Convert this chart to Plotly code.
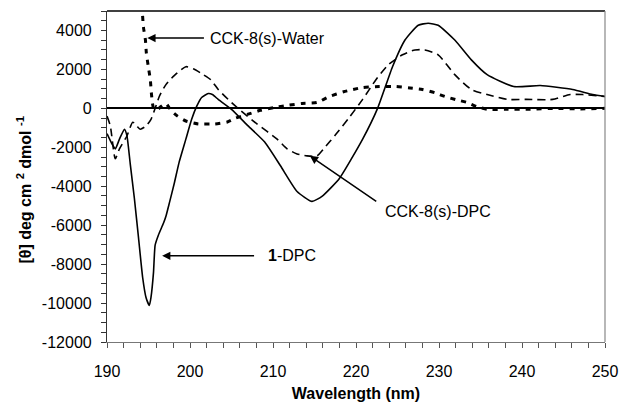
import plotly.graph_objects as go

# 1-DPC (solid)
dpc1_x = [190.0, 190.6, 191.0, 191.5, 192.1, 192.4, 192.8, 193.3, 193.8, 194.3, 194.7, 195.1, 195.3, 195.6,
          195.8, 196.2, 196.8, 197.1, 197.5, 198.1, 198.7, 199.5, 200.2, 200.8, 201.4, 202.2, 202.7, 203.4,
          205.0, 207.0, 209.0, 210.9, 212.9, 214.7, 215.9, 218.0, 220.8, 222.6, 224.4, 225.9, 227.5, 228.7,
          229.9, 231.9, 233.9, 235.8, 239.0, 242.2, 246.1, 248.5, 250.0]
dpc1_y = [-1300, -1830, -2080, -1580, -1070, -1400, -2850, -4630, -6660, -8700, -9710, -10120, -9710, -8440,
          -7020, -6500, -5900, -5540, -4880, -3860, -2750, -1580, -560, 100, 560, 760, 710, 460,
          -50, -900, -1730, -2950, -4270, -4780, -4520, -3600, -1580, 0, 2140, 3510, 4270, 4370,
          4270, 3510, 2490, 1730, 1120, 1170, 970, 710, 610]

# CCK-8(s)-DPC (dashed)
cckdpc_x = [190.0, 190.4, 191.0, 191.5, 192.4, 193.1, 193.6, 194.0, 194.7, 195.3, 195.8, 196.3, 197.1, 198.1,
            199.5, 200.4, 201.6, 202.5, 203.4, 204.6, 205.8, 208.1, 210.5, 211.7, 212.9, 214.1, 215.3, 216.1,
            217.6, 219.2, 220.8, 222.4, 223.9, 225.6, 227.1, 228.3, 229.9, 231.9, 233.9, 235.8, 238.2, 240.5,
            243.7, 245.8, 247.3, 250.0]
cckdpc_y = [-400, -900, -2590, -2080, -1420, -710, -910, -1070, -910, -560, 0, 610, 1220, 1680,
            2140, 2030, 1730, 1470, 970, 460, 0, -810, -1580, -2080, -2340, -2440, -2440, -2080,
            -1320, -460, 460, 1470, 2240, 2750, 3000, 3000, 2750, 1730, 970, 710, 460, 460,
            460, 710, 710, 610]

# CCK-8(s)-Water (dotted)
water_x = [194.0, 194.27, 194.39, 194.63, 194.74, 194.98, 195.22, 195.34, 195.58, 196.0, 196.5, 197.1, 197.7,
           198.5, 199.5, 201.0, 203.0, 204.5, 205.5, 207.0, 208.5, 210.2, 211.7, 213.5, 215.3, 216.8, 218.5,
           220.8, 222.8, 224.8, 226.5, 228.0, 229.5, 230.7, 232.0, 233.4, 234.5, 235.8, 238.0, 241.0, 244.0,
           247.0, 250.0]
water_y = [7000, 4880, 4170, 3510, 2850, 2130, 1470, 810, 50, -100, 100, 250, -100,
           -400, -650, -800, -800, -700, -500, -300, -100, 50, 150, 250, 300, 610, 850,
           1070, 1120, 1120, 1050, 970, 800, 610, 450, 300, 100, -50, -50, -50, 0,
           -30, 0]

x_ticks = [190, 200, 210, 220, 230, 240, 250]
y_ticks = [-12000, -10000, -8000, -6000, -4000, -2000, 0, 2000, 4000]
y_tick_text = ["-12000", "-10000", "-8000", "-6000", "-4000", "-2000", "0", "2000", "4000"]

FONT = "Arial, Liberation Sans, sans-serif"

fig = go.Figure()
fig.add_trace(go.Scatter(x=water_x, y=water_y, mode="lines",
                         line=dict(color="black", width=3, dash="5px,6px", shape="spline", smoothing=0.5),
                         name="CCK-8(s)-Water"))
fig.add_trace(go.Scatter(x=cckdpc_x, y=cckdpc_y, mode="lines",
                         line=dict(color="black", width=1.6, dash="8px,5px", shape="spline", smoothing=0.6),
                         name="CCK-8(s)-DPC"))
fig.add_trace(go.Scatter(x=dpc1_x, y=dpc1_y, mode="lines",
                         line=dict(color="black", width=1.6, shape="spline", smoothing=0.5), name="1-DPC"))

fig.update_layout(
    width=629, height=410,
    margin=dict(l=107, r=16, t=11, b=65),
    paper_bgcolor="white", plot_bgcolor="white",
    showlegend=False,
    font=dict(family=FONT, size=16, color="black"),
)

fig.update_xaxes(
    range=[190, 250], tickvals=x_ticks, ticks="outside", ticklen=5, tickwidth=1, tickcolor="#555",
    showline=True, linecolor="#777", linewidth=1.2, showgrid=False, zeroline=False,
    minor=dict(dtick=2, ticks="outside", ticklen=5, tickcolor="#555", showgrid=False),
    ticklabelstandoff=10,
    title=dict(text="<b>Wavelength (nm)</b>", font=dict(size=16), standoff=8),
)
fig.update_yaxes(
    range=[-12000, 5000], tickvals=y_ticks, ticktext=y_tick_text, ticks="outside", ticklen=5, tickwidth=1,
    tickcolor="#333", showline=True, linecolor="#333", linewidth=1.2, showgrid=False,
    zeroline=True, zerolinecolor="black", zerolinewidth=1.6,
    minor=dict(dtick=500, tick0=0, ticks="outside", ticklen=5, tickcolor="#333", showgrid=False),
    ticklabelstandoff=6,
)

# frame top (black) and right (grey)
fig.add_shape(type="line", xref="paper", yref="paper", x0=0, x1=1, y0=1, y1=1,
              line=dict(color="black", width=1.5))
fig.add_shape(type="line", xref="paper", yref="paper", x0=1, x1=1, y0=0, y1=1,
              line=dict(color="#888", width=1.2))

# y-axis title
fig.add_annotation(xref="paper", yref="paper", x=-0.167, y=0.46, textangle=-90, showarrow=False,
                   text="<b>[θ] deg cm <sup>2</sup> dmol <sup>-1</sup></b>", font=dict(size=16),
                   xanchor="center", yanchor="middle")

# arrows
arrows = [
    (194.86, 3610, 201.86, 3610),
    (196.64, -7575, 207.9, -7575),
    (214.44, -2440, 222.62, -4830),
]
for hx, hy, tx, ty in arrows:
    fig.add_annotation(x=hx, y=hy, ax=tx, ay=ty, xref="x", yref="y", axref="x", ayref="y",
                       showarrow=True, arrowhead=2, arrowsize=1.1, arrowwidth=1.5, arrowcolor="black", text="")

labels = [
    (202.2, 3610, "CCK-8(s)-Water"),
    (209.1, -7575, "<b>1</b>-DPC"),
    (223.3, -5290, "CCK-8(s)-DPC"),
]
for lx, ly, txt in labels:
    fig.add_annotation(x=lx, y=ly, xref="x", yref="y", text=txt, showarrow=False,
                       xanchor="left", yanchor="middle", font=dict(size=16))

fig.write_html("out.html")
